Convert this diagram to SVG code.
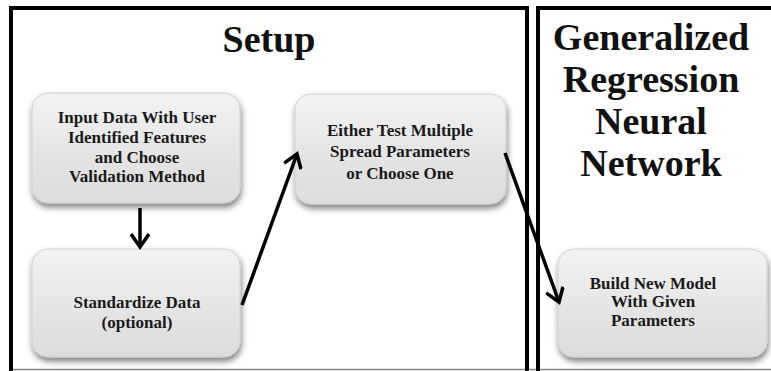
<svg xmlns="http://www.w3.org/2000/svg" width="771" height="371" viewBox="0 0 771 371">
<style>
.panel{fill:none;stroke:#000;stroke-width:4}
.title{font-family:"Liberation Serif","Times New Roman",serif;font-weight:bold;font-size:38px;fill:#111;text-anchor:middle}
.lbl{font-family:"Liberation Serif","Times New Roman",serif;font-weight:bold;font-size:17px;fill:#1a1a1a;text-anchor:middle}
.box{fill:url(#g);stroke:#d0d0d0;stroke-width:1;filter:url(#sh)}
.conn{fill:none;stroke:#000;stroke-width:3.5;marker-end:url(#ah)}
</style>
<defs>
<linearGradient id="g" x1="0" y1="0" x2="0" y2="1">
<stop offset="0" stop-color="#f3f3f3"/>
<stop offset="0.5" stop-color="#e6e6e6"/>
<stop offset="1" stop-color="#dcdcdc"/>
</linearGradient>
<filter id="sh" x="-10%" y="-10%" width="125%" height="135%">
<feDropShadow dx="1" dy="4" stdDeviation="3" flood-color="#000" flood-opacity="0.5"/>
</filter>
<marker id="ah" markerUnits="userSpaceOnUse" viewBox="-16 -10 20 20" refX="0" refY="0" markerWidth="20" markerHeight="20" orient="auto">
<path d="M-13,-9 L0,0 L-13,9" fill="none" stroke="#000" stroke-width="3.5"/>
</marker>
</defs>
<rect width="771" height="371" fill="#fff"/>
<line x1="11" y1="369.5" x2="771" y2="369.5" stroke="#888" stroke-width="1.5"/>
<path class="panel" d="M11,371 V8 H527 V371"/>
<path class="panel" d="M538,371 V8 H773"/>
<text class="title" x="269" y="52">Setup</text>
<text class="title" x="651" y="50">Generalized</text>
<text class="title" x="651" y="92">Regression</text>
<text class="title" x="651" y="134">Neural</text>
<text class="title" x="651" y="176">Network</text>
<g id="input">
<rect class="box" x="32" y="93" width="208" height="110" rx="16"/>
<text class="lbl" x="137" y="123">Input Data With User</text>
<text class="lbl" x="137" y="143">Identified Features</text>
<text class="lbl" x="137" y="163">and Choose</text>
<text class="lbl" x="137" y="182">Validation Method</text>
</g>
<g id="standardize">
<rect class="box" x="32" y="249" width="208" height="108" rx="16"/>
<text class="lbl" x="137" y="308">Standardize Data</text>
<text class="lbl" x="137" y="328">(optional)</text>
</g>
<g id="spread">
<rect class="box" x="295" y="94" width="211" height="110" rx="16"/>
<text class="lbl" x="400" y="136">Either Test Multiple</text>
<text class="lbl" x="400" y="157">Spread Parameters</text>
<text class="lbl" x="400" y="179">or Choose One</text>
</g>
<g id="build">
<rect class="box" x="558" y="249" width="209" height="108" rx="16"/>
<text class="lbl" x="653" y="289">Build New Model</text>
<text class="lbl" x="653" y="307">With Given</text>
<text class="lbl" x="653" y="326">Parameters</text>
</g>
<g id="connectors">
<path class="conn" d="M140,208 V247"/>
<path class="conn" d="M242,305 L297,154"/>
<path class="conn" d="M505,153 L559,302"/>
</g>
</svg>
